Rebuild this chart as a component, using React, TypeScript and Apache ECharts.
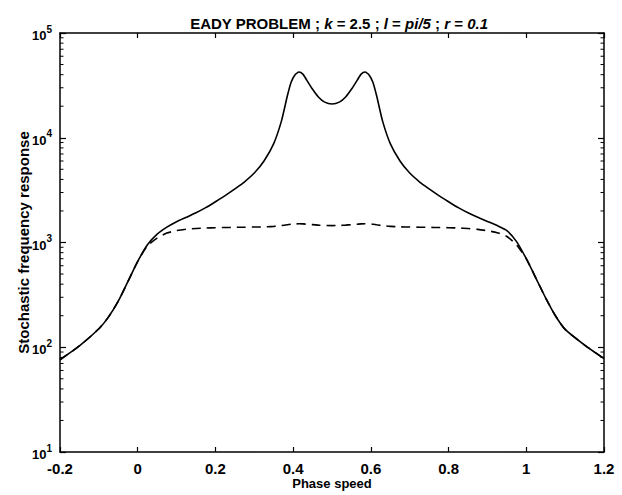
import React, { useEffect, useRef } from "react";
import * as echarts from "echarts";

const phaseSpeed = [
  -0.2, -0.15, -0.1, -0.075, -0.05, -0.025, 0, 0.025, 0.05, 0.075, 0.1, 0.125, 0.15, 0.175, 0.2, 0.225, 0.25,
  0.275, 0.3, 0.325, 0.35,
  0.37, 0.385, 0.395, 0.405, 0.415, 0.425, 0.435, 0.45, 0.465, 0.48, 0.5, 0.52, 0.535, 0.55, 0.565, 0.575,
  0.585, 0.595, 0.605, 0.615, 0.63,
  0.65, 0.675, 0.7, 0.725, 0.75, 0.775, 0.8, 0.825, 0.85, 0.875, 0.9, 0.925, 0.95, 0.975, 1.0, 1.025, 1.05,
  1.075, 1.1, 1.15, 1.2,
];

const solidResponse = [
  76, 103, 150, 195, 275, 425, 660, 950, 1200, 1400, 1580, 1740, 1920, 2150, 2450, 2800, 3250,
  3800, 4600, 6000, 8800,
  14500, 25000, 34000, 40000, 42500, 40500, 35500, 29000, 24500, 22000, 21000, 22000, 24500, 29000, 35500, 40500,
  42500, 40000, 34000, 25000, 14500,
  8800, 6000, 4600, 3800, 3250, 2800, 2450, 2150, 1920, 1740, 1590, 1450, 1300, 1020, 700, 455, 295,
  200, 148, 105, 78,
];

const dashedResponse = [
  76, 103, 150, 195, 275, 425, 660, 930, 1100, 1230, 1300, 1340, 1360, 1375, 1385, 1390, 1395,
  1400, 1405, 1410, 1425,
  1450, 1475, 1495, 1505, 1510, 1505, 1495, 1480, 1465, 1455, 1450, 1455, 1465, 1480, 1495, 1505,
  1510, 1505, 1495, 1475, 1450,
  1425, 1410, 1405, 1400, 1395, 1390, 1385, 1375, 1360, 1335, 1295, 1240, 1140, 950, 700, 455, 295,
  200, 148, 105, 78,
];

const minorTickValues = [
  20, 30, 40, 50, 60, 70, 80, 90, 200, 300, 400, 500, 600, 700, 800, 900, 2000, 3000, 4000, 5000, 6000, 7000,
  8000, 9000, 20000, 30000, 40000, 50000, 60000, 70000, 80000, 90000,
];

const X_MIN = -0.2;
const X_MAX = 1.2;
const Y_MIN = 10;
const Y_MAX = 100000;

const FONT = "'Liberation Sans', Arial, sans-serif";

export default function App() {
  const ref = useRef<HTMLDivElement>(null);

  useEffect(() => {
    if (!ref.current) return;
    const chart = echarts.init(ref.current, undefined, { renderer: "svg" });

    const solidData = phaseSpeed.map((x, i) => [x, solidResponse[i]]);
    const dashedData = phaseSpeed.map((x, i) => [x, dashedResponse[i]]);
    const minorData = minorTickValues.map((v) => [X_MIN, v]);

    const axisLine = { show: true, onZero: false, lineStyle: { color: "#000", width: 1.5 } };

    chart.setOption({
      animation: false,
      backgroundColor: "#fff",
      title: {
        text: "EADY PROBLEM ; {i|k} = 2.5 ; {i|l} = {i|pi/5} ; {i|r} = {i|0.1}",
        left: 334,
        textAlign: "center",
        top: 11,
        textStyle: {
          fontFamily: FONT,
          fontSize: 15,
          fontWeight: "bold",
          color: "#000",
          rich: {
            i: { fontFamily: FONT, fontSize: 15, fontWeight: "bold", fontStyle: "italic", color: "#000" },
          },
        },
      },
      grid: { left: 60, right: 18, top: 33, bottom: 37 },
      xAxis: [
        {
          type: "value",
          min: X_MIN,
          max: X_MAX,
          interval: 0.2,
          position: "bottom",
          name: "Phase speed",
          nameLocation: "middle",
          nameGap: 25,
          nameMoveOverlap: false,
          nameTextStyle: { fontFamily: FONT, fontSize: 13, fontWeight: "bold", color: "#000" },
          axisLine,
          axisTick: { show: true, inside: true, length: 5, lineStyle: { color: "#000", width: 1.2 } },
          axisLabel: {
            margin: 9,
            fontFamily: FONT,
            fontSize: 15,
            fontWeight: "bold",
            color: "#000",
            formatter: (v: number) => String(Math.round(v * 10) / 10),
          },
          splitLine: { show: false },
        },
        {
          type: "value",
          min: X_MIN,
          max: X_MAX,
          interval: 0.2,
          position: "top",
          axisLine,
          axisTick: { show: true, inside: true, length: 5, lineStyle: { color: "#000", width: 1.2 } },
          axisLabel: { show: false },
          splitLine: { show: false },
        },
      ],
      yAxis: [
        {
          type: "log",
          logBase: 10,
          min: Y_MIN,
          max: Y_MAX,
          position: "left",
          name: "Stochastic frequency response",
          nameLocation: "middle",
          nameGap: 29,
          nameMoveOverlap: false,
          nameTextStyle: { fontFamily: FONT, fontSize: 15, fontWeight: "bold", color: "#000" },
          axisLine,
          axisTick: { show: true, inside: true, length: 6, lineStyle: { color: "#000", width: 1.2 } },
          axisLabel: {
            margin: 8,
            color: "#000",
            formatter: (v: number) => `{b|10}{s|${Math.round(Math.log10(v))}}`,
            rich: {
              b: { fontFamily: FONT, fontSize: 13, fontWeight: "bold", color: "#000", verticalAlign: "bottom", lineHeight: 18 },
              s: { fontFamily: FONT, fontSize: 10, fontWeight: "bold", color: "#000", verticalAlign: "bottom", padding: [0, 0, 8, 0] },
            },
          },
          splitLine: { show: false },
        },
        {
          type: "log",
          logBase: 10,
          min: Y_MIN,
          max: Y_MAX,
          position: "right",
          axisLine,
          axisTick: { show: true, inside: true, length: 6, lineStyle: { color: "#000", width: 1.2 } },
          axisLabel: { show: false },
          splitLine: { show: false },
        },
      ],
      series: [
        {
          type: "line",
          data: solidData,
          showSymbol: false,
          smooth: 0.2,
          lineStyle: { color: "#000", width: 1.6, type: "solid" },
          z: 2,
        },
        {
          type: "line",
          data: dashedData,
          showSymbol: false,
          smooth: 0.2,
          lineStyle: { color: "#000", width: 1.6, type: [9, 6] },
          z: 3,
        },
        {
          type: "custom",
          data: minorData,
          clip: false,
          silent: true,
          z: 5,
          renderItem: (params: any, api: any) => {
            const v = api.value(1);
            const l = api.coord([X_MIN, v]);
            const r = api.coord([X_MAX, v]);
            const style = { stroke: "#000", lineWidth: 1 };
            return {
              type: "group",
              children: [
                { type: "line", shape: { x1: l[0], y1: l[1], x2: l[0] + 3.5, y2: l[1] }, style },
                { type: "line", shape: { x1: r[0], y1: r[1], x2: r[0] - 3.5, y2: r[1] }, style },
              ],
            };
          },
        },
      ],
    });

    return () => chart.dispose();
  }, []);

  return (
    <div
      ref={ref}
      style={{ position: "fixed", left: 0, top: 0, width: 622, height: 495, background: "#fff" }}
    />
  );
}
